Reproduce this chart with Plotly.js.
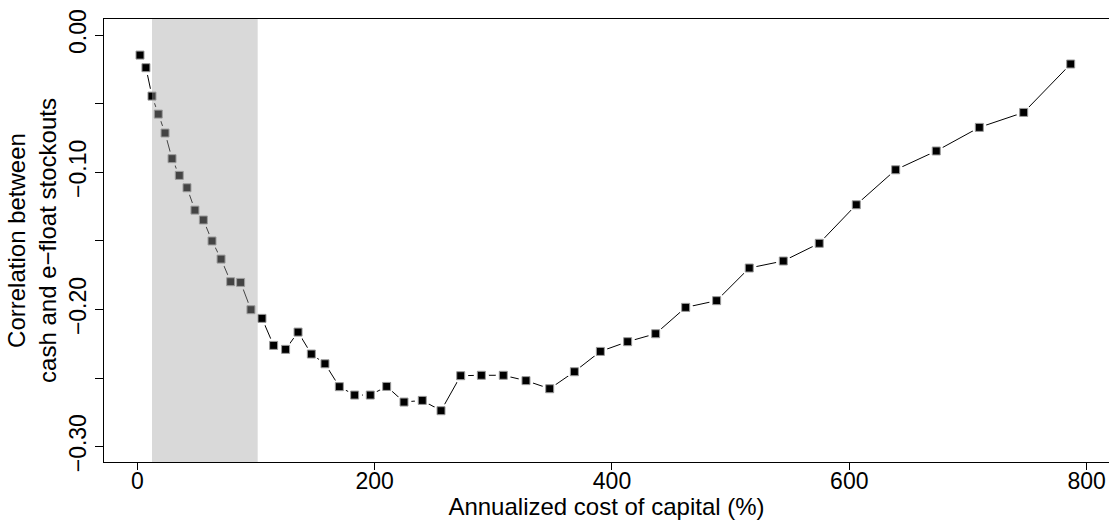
<!DOCTYPE html>
<html>
<head>
<meta charset="utf-8">
<script src="https://cdn.plot.ly/plotly-3.0.1.min.js"></script>
<style>html,body{margin:0;padding:0;background:#fff;}#chart{width:1109px;height:520px;}</style>
</head>
<body>
<div id="chart"></div>
<script>
const costPct = [2.2,7.2,12.3,17.6,23.3,29.2,35.3,41.8,48.5,55.6,62.9,70.5,78.6,87.0,95.7,105.0,114.8,124.9,135.4,146.6,158.1,170.2,183.1,196.3,210.1,224.7,240.1,255.9,272.5,289.9,308.4,327.5,347.5,368.3,390.2,413.2,436.8,462.1,488.2,515.7,544.4,574.7,605.9,639.1,673.3,709.6,747.0,786.6];
const correlation = [-0.0146,-0.0238,-0.0445,-0.0576,-0.0714,-0.0901,-0.1023,-0.1113,-0.1276,-0.1348,-0.1501,-0.1633,-0.1798,-0.1803,-0.2002,-0.2065,-0.2262,-0.2291,-0.2165,-0.2325,-0.2396,-0.2563,-0.2624,-0.2624,-0.2561,-0.2675,-0.2663,-0.2738,-0.2483,-0.2480,-0.2480,-0.2519,-0.2578,-0.2454,-0.2306,-0.2235,-0.2177,-0.1985,-0.1936,-0.1698,-0.1647,-0.1518,-0.1237,-0.0982,-0.0845,-0.0673,-0.0564,-0.0211];
const shadedBand = [12.3, 101.4];
const xTickVals = [0, 200, 400, 600, 800];
const xTickText = ['0', '200', '400', '600', '800'];
const yTickVals = [0, -0.05, -0.10, -0.15, -0.20, -0.25, -0.30];
const yTickText = ['0.00', '', '\u22120.10', '', '\u22120.20', '', '\u22120.30'];

const FONT = 'Liberation Sans, Arial, Helvetica, sans-serif';

const traces = [
  {x: costPct, y: correlation, type: 'scatter', mode: 'lines',
   line: {color: '#000', width: 1}, hoverinfo: 'skip', showlegend: false},
  {x: costPct, y: correlation, type: 'scatter', mode: 'markers',
   marker: {symbol: 'circle', size: 15, color: '#fff', line: {width: 0}}, hoverinfo: 'skip', showlegend: false},
  {x: costPct, y: correlation, type: 'scatter', mode: 'markers',
   marker: {symbol: 'square', size: 8, color: '#000', line: {color: '#9a9a9a', width: 1}}, showlegend: false}
];

const layout = {
  width: 1109, height: 520,
  margin: {l: 104, r: 0, t: 19, b: 58, pad: 0},
  paper_bgcolor: '#fff', plot_bgcolor: '#fff',
  font: {family: FONT, size: 23, color: '#000'},
  showlegend: false,
  xaxis: {
    range: [-28.15, 818.9], showgrid: false, zeroline: false,
    showline: true, linecolor: '#000', linewidth: 1, mirror: true,
    ticks: 'outside', ticklen: 7, tickwidth: 1, tickcolor: '#000',
    tickvals: xTickVals, ticktext: xTickText,
    tickfont: {family: FONT, size: 23, color: '#000'},
    ticklabelstandoff: -9,
    automargin: false,
    title: {text: 'Annualized cost of capital (%)', font: {family: FONT, size: 24, color: '#000'}, standoff: 6}
  },
  yaxis: {
    range: [-0.3112, 0.0117], showgrid: false, zeroline: false,
    showline: true, linecolor: '#000', linewidth: 1, mirror: true,
    ticks: 'outside', ticklen: 8, tickwidth: 1, tickcolor: '#000',
    tickvals: yTickVals, ticktext: yTickText, tickangle: -90,
    tickfont: {family: FONT, size: 23, color: '#000'},
    automargin: false,
    title: {text: 'Correlation between<br>cash and e\u2212float stockouts', font: {family: FONT, size: 24, color: '#000'}, standoff: 1}
  },
  shapes: [
    {type: 'rect', xref: 'x', yref: 'paper', x0: shadedBand[0], x1: shadedBand[1], y0: 0, y1: 1,
     fillcolor: 'rgba(164,164,164,0.415)', line: {width: 0}, layer: 'above'}
  ]
};

Plotly.newPlot('chart', traces, layout, {displayModeBar: false, staticPlot: true});
</script>
</body>
</html>
